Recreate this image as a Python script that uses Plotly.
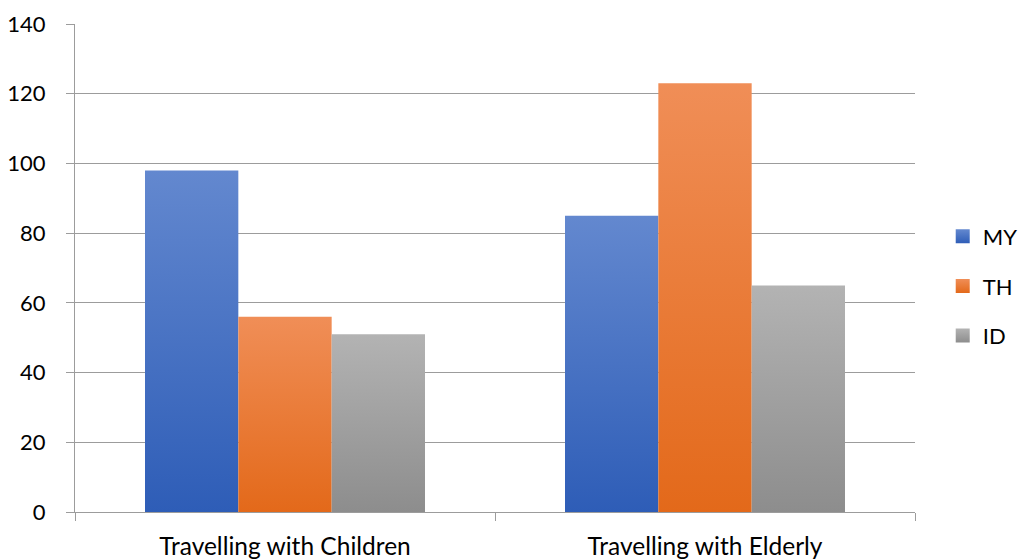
import plotly.graph_objects as go

# Chart data
categories = ["Travelling with Children", "Travelling with Elderly"]
series_names = ["MY", "TH", "ID"]
my_values = [98, 85]
th_values = [56, 123]
id_values = [51, 65]
y_ticks = [0, 20, 40, 60, 80, 100, 120, 140]

series_values = [my_values, th_values, id_values]
top_colors = ["#6388cf", "#f08e57", "#b3b3b3"]
bottom_colors = ["#2e5db7", "#e3691a", "#8d8d8d"]

GRID = "#9c9c9c"
FONT = "Lato"

group_width = 2 / 3
bar_width = group_width / len(series_names)

fig = go.Figure()

# Each bar is a filled rectangle with its own vertical gradient (dark at base, light at top)
for s, (name, vals) in enumerate(zip(series_names, series_values)):
    scale = [[0, bottom_colors[s]], [1, top_colors[s]]]
    for c, v in enumerate(vals):
        left = c - group_width / 2 + s * bar_width
        right = left + bar_width
        fig.add_trace(go.Scatter(
            x=[left, right, right, left, left],
            y=[0, 0, v, v, 0],
            fill="toself",
            mode="none",
            fillgradient=dict(type="vertical", colorscale=scale),
            legendgroup=name,
            showlegend=False,
            hovertemplate=f"{name}<br>{categories[c]}: {v}<extra></extra>",
        ))
    # Legend swatch for the series
    fig.add_trace(go.Scatter(
        x=[None], y=[None],
        mode="markers",
        name=name,
        legendgroup=name,
        marker=dict(symbol="square", size=14, color=top_colors[s],
                    gradient=dict(type="vertical", color=bottom_colors[s])),
    ))

fig.update_layout(
    width=1018, height=560,
    margin=dict(l=75, r=103, t=24, b=48, autoexpand=False),
    paper_bgcolor="white", plot_bgcolor="white",
    font=dict(family=FONT, size=22, color="#000000"),
    legend=dict(x=1.033, xref="paper", y=0.463, xanchor="left", yanchor="middle",
                tracegroupgap=18, font=dict(size=22), itemwidth=30),
    xaxis=dict(
        range=[-0.5, 1.5],
        tickvals=[0, 1], ticktext=categories, ticks="",
        tickfont=dict(size=24.5),
        showgrid=False, zeroline=False,
        showline=True, linecolor=GRID, linewidth=1.2,
        minor=dict(tickvals=[-0.5, 0.5, 1.5], ticks="outside", ticklen=8,
                   tickcolor=GRID, tickwidth=1.2, showgrid=False),
        ticklabelstandoff=12,
    ),
    yaxis=dict(
        range=[0, 140], tickvals=y_ticks,
        showgrid=True, gridcolor=GRID, gridwidth=1.2,
        zeroline=False,
        showline=True, linecolor=GRID, linewidth=1.2,
        ticks="outside", ticklen=8, tickcolor=GRID, tickwidth=1.2,
        ticklabelstandoff=16,
    ),
)

fig.write_html("out.html")
